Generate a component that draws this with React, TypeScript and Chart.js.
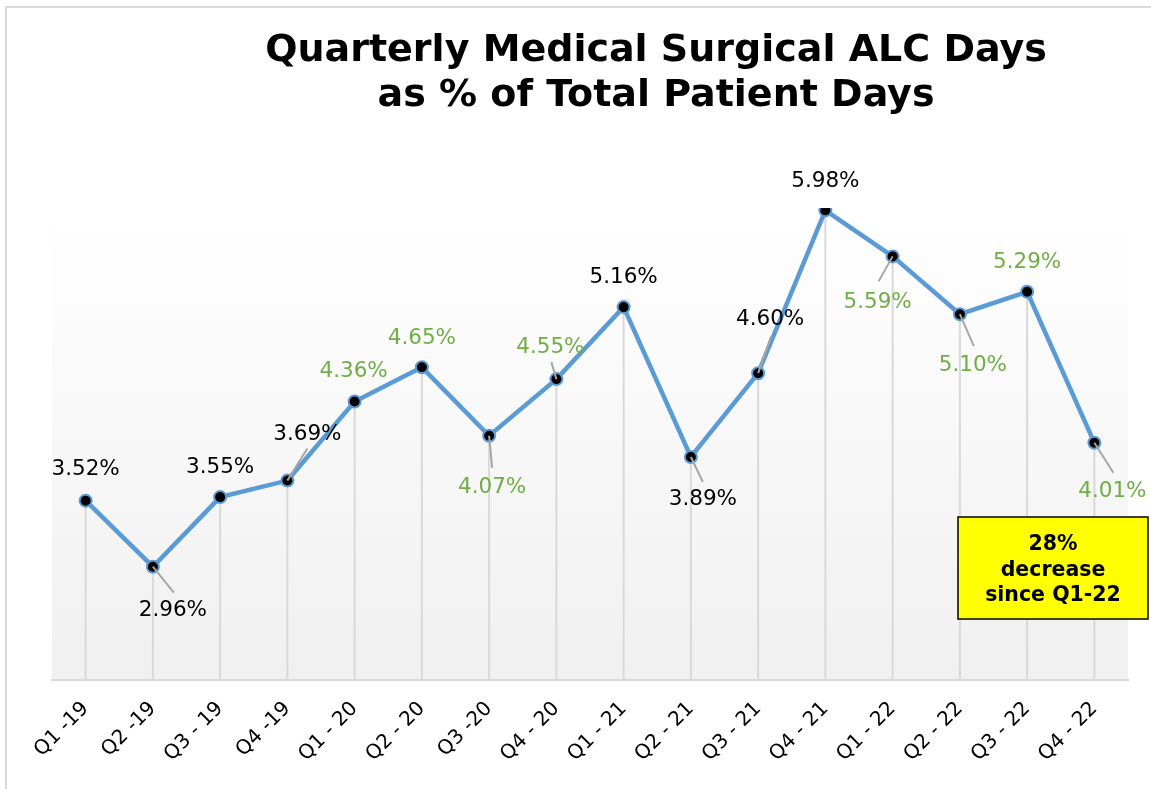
import React, { useEffect, useRef } from "react";
import { Chart, registerables } from "chart.js";
Chart.register(...registerables);

const titleLines = ["Quarterly Medical Surgical ALC Days", "as % of Total Patient Days"];
const categories = [
  "Q1 -19", "Q2 -19", "Q3 - 19", "Q4 -19",
  "Q1 - 20", "Q2 - 20", "Q3 -20", "Q4 - 20",
  "Q1 - 21", "Q2 - 21", "Q3 - 21", "Q4 - 21",
  "Q1 - 22", "Q2 - 22", "Q3 - 22", "Q4 - 22",
];
const alcPercent = [3.52, 2.96, 3.55, 3.69, 4.36, 4.65, 4.07, 4.55, 5.16, 3.89, 4.6, 5.98, 5.59, 5.1, 5.29, 4.01];
const labelIsGreen = [false, false, false, false, true, true, true, true, false, false, false, false, true, true, true, true];
const calloutLines = ["28%", "decrease", "since Q1-22"];

// layout: label centre offset from point [dx, dy], and leader end offset (null = no leader)
const labelOffsets: [number, number][] = [
  [0, -31], [20, 44], [0, -30], [20, -46],
  [-1, -30], [0, -29], [3, 52], [-6, -32],
  [0, -30], [12, 42], [12, -54], [0, -29],
  [-15, 46], [13, 51], [0, -29], [18, 49],
];
const leaderEnds: ([number, number] | null)[] = [
  null, [21, 26], null, [20, -32],
  null, null, [3, 32], [-5, -17],
  null, [12, 25], [13, -37], null,
  [-14, 25], [14, 32], null, [19, 30],
];

const FONT = "'DejaVu Sans', Verdana, sans-serif";
const BLUE = "#5B9BD5";
const GREEN = "#70AD47";

const decorPlugin = {
  id: "decor",
  beforeDraw(chart: any) {
    const { ctx, chartArea: a } = chart;
    const g = ctx.createLinearGradient(0, a.top, 0, a.bottom);
    g.addColorStop(0, "#ffffff");
    g.addColorStop(1, "#f0f0f0");
    ctx.save();
    ctx.fillStyle = g;
    ctx.fillRect(a.left, a.top, a.right - a.left, a.bottom - a.top);
    ctx.restore();
  },
  beforeDatasetsDraw(chart: any) {
    const { ctx, chartArea: a } = chart;
    const pts = chart.getDatasetMeta(0).data;
    ctx.save();
    ctx.strokeStyle = "#d9d9d9";
    ctx.lineWidth = 2;
    pts.forEach((p: any) => {
      ctx.beginPath();
      ctx.moveTo(p.x, p.y);
      ctx.lineTo(p.x, a.bottom);
      ctx.stroke();
    });
    ctx.restore();
  },
  afterDatasetsDraw(chart: any) {
    const { ctx } = chart;
    const pts = chart.getDatasetMeta(0).data;
    ctx.save();
    pts.forEach((p: any, i: number) => {
      const le = leaderEnds[i];
      if (le) {
        ctx.strokeStyle = "#a6a6a6";
        ctx.lineWidth = 2;
        ctx.beginPath();
        ctx.moveTo(p.x, p.y);
        ctx.lineTo(p.x + le[0], p.y + le[1]);
        ctx.stroke();
      }
    });
    pts.forEach((p: any, i: number) => {
      const [dx, dy] = labelOffsets[i];
      ctx.fillStyle = labelIsGreen[i] ? GREEN : "#000000";
      ctx.font = `21.5px ${FONT}`;
      ctx.textAlign = "center";
      ctx.textBaseline = "middle";
      ctx.fillText(alcPercent[i].toFixed(2) + "%", p.x + dx, p.y + dy);
    });
    ctx.restore();
  },
  afterDraw(chart: any) {
    const { ctx } = chart;
    ctx.save();
    // title
    ctx.fillStyle = "#000";
    ctx.font = `bold 38px ${FONT}`;
    ctx.textAlign = "center";
    ctx.textBaseline = "middle";
    ctx.fillText(titleLines[0], 656, 51);
    ctx.fillText(titleLines[1], 656, 96);
    // callout box
    const bx = 958, by = 517, bw = 190, bh = 102;
    ctx.fillStyle = "#ffff00";
    ctx.fillRect(bx, by, bw, bh);
    ctx.strokeStyle = "#000";
    ctx.lineWidth = 1.5;
    ctx.strokeRect(bx, by, bw, bh);
    ctx.fillStyle = "#000";
    ctx.font = `bold 20.5px ${FONT}`;
    calloutLines.forEach((t, i) => {
      ctx.fillText(t, bx + bw / 2, 545 + i * 25.5);
    });
    ctx.restore();
  },
};

export default function App() {
  const ref = useRef<HTMLCanvasElement | null>(null);
  useEffect(() => {
    if (!ref.current) return;
    const chart = new Chart(ref.current, {
      type: "line",
      data: {
        labels: categories,
        datasets: [
          {
            data: alcPercent,
            borderColor: BLUE,
            borderWidth: 4.5,
            pointRadius: 6,
            pointBackgroundColor: "#000",
            pointBorderColor: BLUE,
            pointBorderWidth: 2,
            tension: 0,
          },
        ],
      },
      options: {
        responsive: false,
        animation: false,
        layout: { padding: { left: 52, right: 23, top: 208, bottom: 0 } },
        plugins: { legend: { display: false }, tooltip: { enabled: false }, title: { display: false } },
        scales: {
          x: {
            offset: true,
            grid: { display: false, drawTicks: false },
            border: { display: true, color: "#d9d9d9", width: 2 },
            ticks: {
              color: "#000",
              font: { family: FONT, size: 20 },
              minRotation: 45,
              maxRotation: 45,
              padding: 17,
              autoSkip: false,
            },
            afterFit(scale: any) {
              scale.height = 109;
            },
          },
          y: { display: false, min: 2, max: 6 },
        },
      },
      plugins: [decorPlugin],
    });
    return () => chart.destroy();
  }, []);
  return (
    <div style={{ position: "fixed", left: 0, top: 0, width: 1151, height: 789, background: "#fff", overflow: "hidden" }}>
      <div
        style={{
          position: "absolute",
          left: 5,
          top: 6,
          width: 1300,
          height: 1000,
          borderLeft: "2px solid #d9d9d9",
          borderTop: "2px solid #d9d9d9",
        }}
      />
      <canvas ref={ref} width={1151} height={789} style={{ position: "absolute", left: 0, top: 0, display: "block" }} />
    </div>
  );
}
